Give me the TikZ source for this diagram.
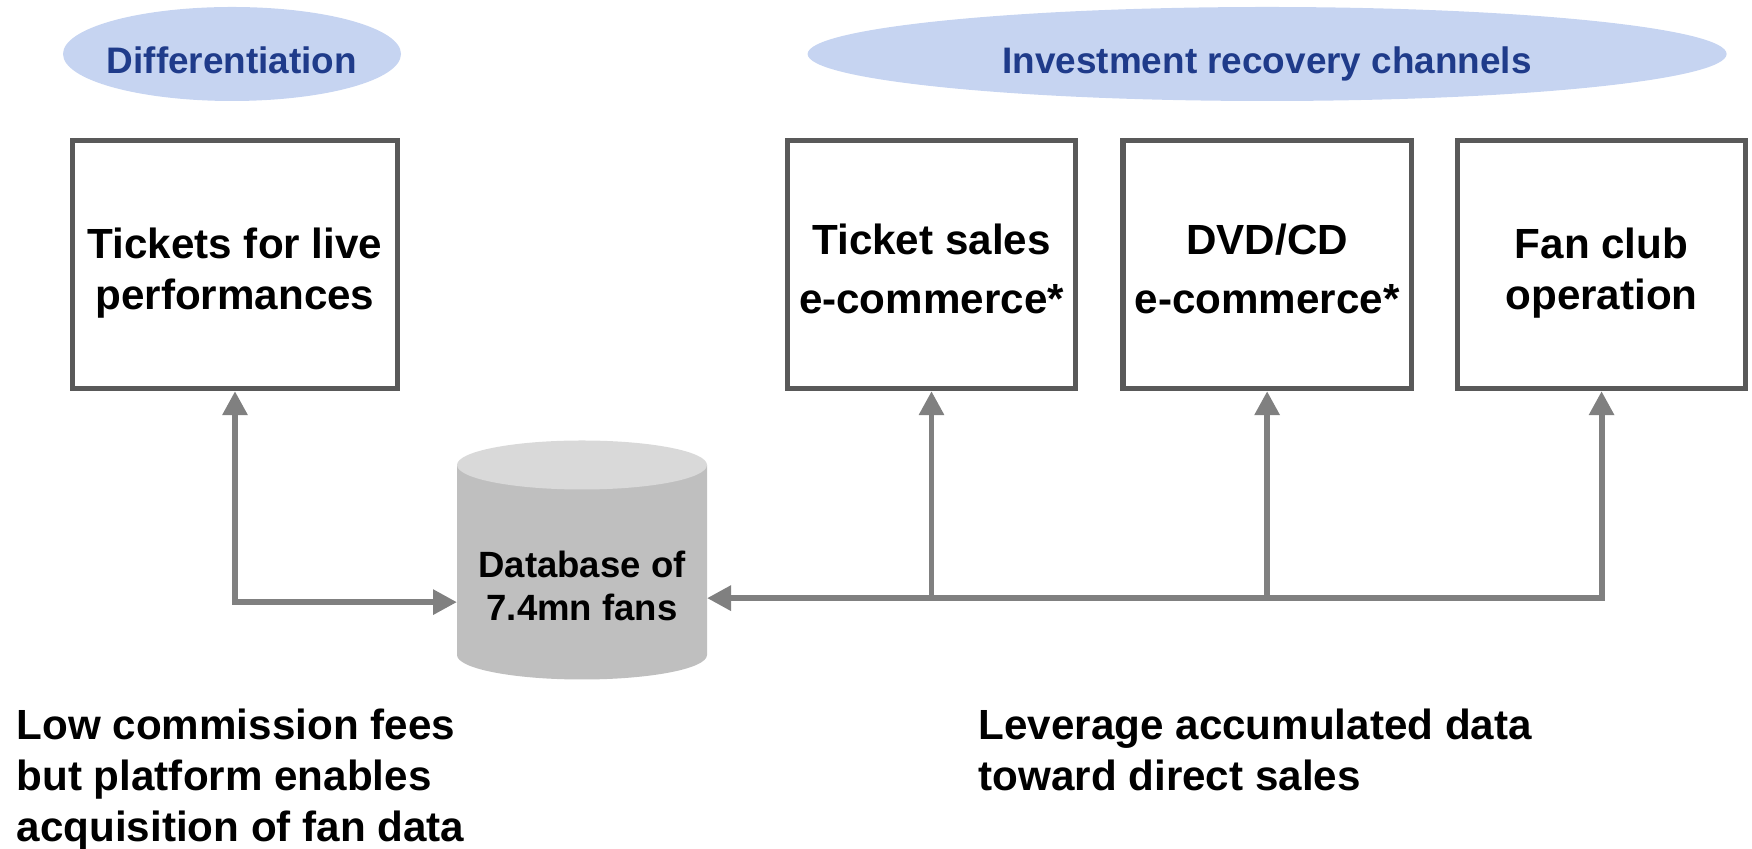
\documentclass[tikz,border=0pt]{standalone}
\usepackage{fontspec}
\setmainfont{Liberation Sans}
\usetikzlibrary{positioning,shapes.geometric,arrows.meta}

\definecolor{tagfill}{HTML}{C6D4F1}
\definecolor{tagtext}{HTML}{1F3B8A}
\definecolor{boxline}{HTML}{595959}
\definecolor{linkgray}{HTML}{808080}
\definecolor{dbbody}{HTML}{BFBFBF}
\definecolor{dbtop}{HTML}{D9D9D9}

\tikzset{
    tag/.style={ellipse,fill=tagfill,text=tagtext,inner ysep=0pt,inner xsep=-2mm,
        minimum height=0.94cm,text height=4mm,text depth=0pt,
        font=\fontsize{10.5}{12}\selectfont\bfseries},
    chan/.style={draw=boxline,line width=1.5pt,fill=white,align=center,
        minimum width=2.88cm,minimum height=2.48cm,text height=9mm,text depth=0pt,
        font=\fontsize{12}{14.5}\selectfont\bfseries},
    dbtext/.style={inner sep=0pt,outer sep=0pt,align=center,minimum width=2.5cm,
        font=\fontsize{10.4}{12.3}\selectfont\bfseries},
    note/.style={anchor=north west,align=left,inner sep=0pt,
        font=\fontsize{12}{14.5}\selectfont\bfseries},
    link/.style={draw=linkgray,line width=1.7pt,>={Triangle[length=2.4mm,width=2.4mm]}}
}

\begin{document}
\begin{tikzpicture}
        \useasboundingbox (0,0) rectangle (17.52,8.49);
        % channel boxes
        \node[chan,minimum width=3.25cm] (tix) at (2.35,5.845) {Tickets for live\\performances};
        \node[chan,text height=9.8mm] (sales) at (9.315,5.845) {Ticket sales\\[0.8mm]e-commerce*};
        \node[chan,text height=9.8mm,right=0.42 of sales] (dvd) {DVD/CD\\[0.8mm]e-commerce*};
        \node[chan,right=0.41 of dvd] (fan) {Fan club\\operation};
        % headings
        \node[tag,minimum width=3.38cm] (diff) at (2.32,7.95) {Differentiation};
        \node[tag,minimum width=9.19cm] (recov) at (dvd |- diff) {Investment recovery channels};
        % database
        \coordinate (dbtopc) at (5.82,3.84);
        \coordinate [below=1.9 of dbtopc] (dbbotc);
        \fill[dbbody] ([xshift=-1.25cm]dbtopc) -- ([xshift=-1.25cm]dbbotc)
            arc[start angle=180,end angle=360,x radius=1.25,y radius=0.245]
            -- ([xshift=1.25cm]dbtopc) -- cycle;
        \fill[dbtop] (dbtopc) ellipse [x radius=1.25,y radius=0.245];
        \node[dbtext] (db) at (5.82,2.63) {Database of\\7.4mn fans};
        % connectors
        \coordinate [below=2.11 of tix.south] (busL);
        \coordinate [below=2.07 of fan.south] (busR);
        \draw[link,<->] (tix.south) |- (db.west |- busL);
        \draw[link,<->] (fan.south) |- (db.east |- busR);
        \draw[link,<-] (sales.south) -- (sales.south |- busR);
        \draw[link,<-] (dvd.south) -- (dvd.south |- busR);
        % notes
        \node[note] (fees) at (0.16,1.41) {Low commission fees\\but platform enables\\acquisition of fan data};
        \node[note] (lever) at (9.78,1.41) {Leverage accumulated data\\toward direct sales};
    \end{tikzpicture}
\end{document}
